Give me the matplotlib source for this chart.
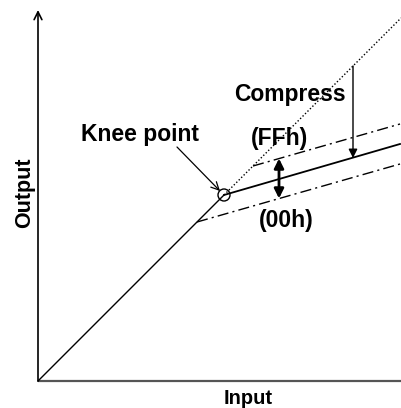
import matplotlib
matplotlib.use("Agg")
import matplotlib.pyplot as plt
from matplotlib.patches import Circle

# Data (units: input / output, origin at axis corner)
linear_x = [0, 186]
linear_y = [0, 186]
dotted_x = [186, 363]
dotted_y = [186, 363]
comp_x = [186, 362]
comp_y = [186, 237]
ffh_x = [215, 362]
ffh_y = [215, 257]
ooh_x = [159, 362]
ooh_y = [159, 217]
knee = (186, 186)
double_arrow_x = 241
double_arrow_y = [222.5, 182.5]
compress_arrow_x = 315
compress_arrow_y = [315, 223]

fig = plt.figure(figsize=(4.01, 4.08), dpi=100)
ax = fig.add_axes([0, 0, 1, 1])
ax.set_xlim(-38, 363)
ax.set_ylim(-27, 381)
ax.axis("off")

FONT = "Liberation Sans"

# axes
ax.annotate("", xy=(0, 371), xytext=(0, 0),
            arrowprops=dict(arrowstyle="->", lw=1.2, color="black",
                            mutation_scale=14, shrinkA=0, shrinkB=0))
ax.plot([0, 363], [0, 0], color="#555555", lw=1.6, solid_capstyle="butt")

# lines
ax.plot(linear_x, linear_y, color="black", lw=1.0)
ax.plot(dotted_x, dotted_y, color="black", lw=1.0, ls=(0, (1, 1.5)))
ax.plot(comp_x, comp_y, color="black", lw=1.3)
ax.plot(ffh_x, ffh_y, color="black", lw=1.0, ls=(0, (8, 3, 1.5, 3)))
ax.plot(ooh_x, ooh_y, color="black", lw=1.0, ls=(0, (8, 3, 1.5, 3)))

# knee circle
ax.add_patch(Circle(knee, 6, fill=False, ec="black", lw=1.0))

# double arrow
ax.annotate("", xy=(double_arrow_x, double_arrow_y[0]),
            xytext=(double_arrow_x, double_arrow_y[1]),
            arrowprops=dict(arrowstyle="<|-|>", lw=2.0, color="black",
                            mutation_scale=14, shrinkA=0, shrinkB=0))
# compress arrow
ax.annotate("", xy=(compress_arrow_x, compress_arrow_y[1]),
            xytext=(compress_arrow_x, compress_arrow_y[0]),
            arrowprops=dict(arrowstyle="-|>", lw=1.0, color="black",
                            mutation_scale=13, shrinkA=0, shrinkB=0))

# knee annotation
ax.annotate("", xy=(knee[0] - 4, knee[1] + 4), xytext=(139, 234),
            arrowprops=dict(arrowstyle="->", lw=0.9, color="black",
                            mutation_scale=14, shrinkA=0, shrinkB=0))

ax.text(102, 246, "Knee point", fontsize=16.5, fontweight="bold",
        family=FONT, ha="center", va="center")
ax.text(252, 286, "Compress", fontsize=16.5, fontweight="bold",
        family=FONT, ha="center", va="center")
ax.text(241, 242, "(FFh)", fontsize=16.5, fontweight="bold",
        family=FONT, ha="center", va="center")
ax.text(248, 161, "(00h)", fontsize=16.5, fontweight="bold",
        family=FONT, ha="center", va="center")
ax.text(-13, 188, "Output", fontsize=15.5, fontweight="bold",
        family=FONT, ha="center", va="center", rotation=90)
ax.text(210, -18, "Input", fontsize=14.5, fontweight="bold",
        family=FONT, ha="center", va="center")

fig.savefig("out.png", dpi=100)
